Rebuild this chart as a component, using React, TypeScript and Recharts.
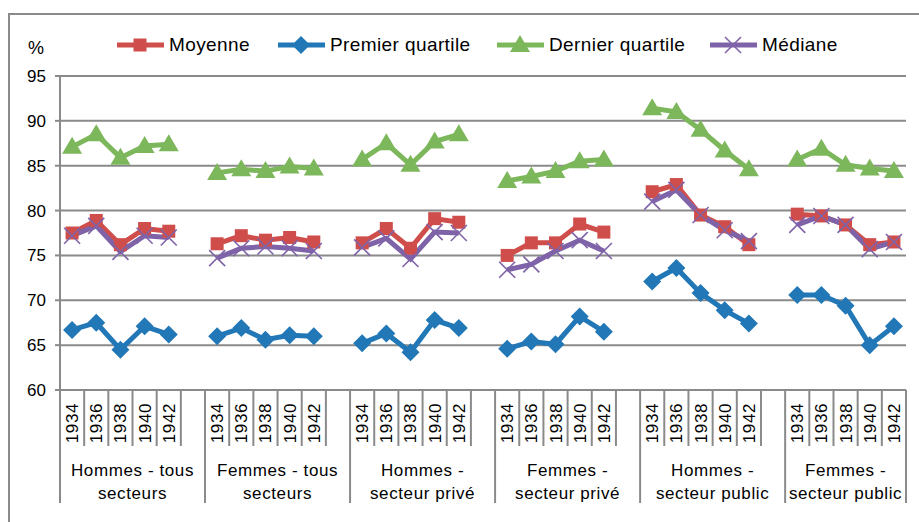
import React from 'react';
import { LineChart, Line, XAxis, YAxis, CartesianGrid } from 'recharts';

const years = ['1934', '1936', '1938', '1940', '1942'];
const groupLabels = [
  ['Hommes - tous', 'secteurs'],
  ['Femmes - tous', 'secteurs'],
  ['Hommes -', 'secteur privé'],
  ['Femmes -', 'secteur privé'],
  ['Hommes -', 'secteur public'],
  ['Femmes -', 'secteur public'],
];
const yTicks = [60, 65, 70, 75, 80, 85, 90, 95];

// valeurs par groupe, 5 années chacun
const moyenne = [
  77.5, 78.9, 76.2, 78.0, 77.7,
  76.3, 77.2, 76.7, 77.0, 76.5,
  76.4, 78.0, 75.8, 79.1, 78.7,
  75.0, 76.4, 76.4, 78.5, 77.6,
  82.1, 82.9, 79.5, 78.2, 76.2,
  79.6, 79.4, 78.4, 76.2, 76.5,
];
const premierQuartile = [
  66.7, 67.5, 64.5, 67.1, 66.2,
  66.0, 66.9, 65.6, 66.1, 66.0,
  65.2, 66.3, 64.2, 67.8, 66.9,
  64.6, 65.4, 65.1, 68.2, 66.5,
  72.1, 73.6, 70.8, 68.9, 67.4,
  70.6, 70.6, 69.4, 65.0, 67.1,
];
const dernierQuartile = [
  87.1, 88.5, 85.9, 87.2, 87.4,
  84.2, 84.6, 84.4, 84.9, 84.7,
  85.7, 87.5, 85.1, 87.7, 88.5,
  83.3, 83.8, 84.4, 85.5, 85.7,
  91.4, 91.0, 89.0, 86.7, 84.6,
  85.7, 86.9, 85.1, 84.7, 84.4,
];
const mediane = [
  77.2, 78.3, 75.4, 77.2, 77.0,
  74.7, 75.8, 76.0, 75.8, 75.5,
  75.9, 76.9, 74.6, 77.6, 77.5,
  73.4, 74.0, 75.5, 76.7, 75.5,
  81.0, 82.3, 79.5, 77.8, 76.6,
  78.4, 79.4, 78.4, 75.7, 76.5,
];

const RED = '#CF4E4B';
const BLUE = '#2277B6';
const GREEN = '#7DB75B';
const PURPLE = '#7F63A8';
const GRID = '#8a8a8a';
const FONT = '"Liberation Sans", Arial, sans-serif';

// une colonne vide entre deux groupes pour couper les lignes
const data: any[] = [];
groupLabels.forEach((_, g) => {
  years.forEach((y, k) => {
    const i = g * 5 + k;
    data.push({
      key: `${g}-${y}`,
      year: y,
      moyenne: moyenne[i],
      premier: premierQuartile[i],
      dernier: dernierQuartile[i],
      mediane: mediane[i],
    });
  });
  if (g < groupLabels.length - 1) {
    data.push({ key: `${g}-gap`, year: '', moyenne: null, premier: null, dernier: null, mediane: null });
  }
});

const N = data.length;
const PLOT_LEFT = 60;
const PLOT_RIGHT = 906;
const PLOT_BOTTOM = 390;
const SLOT = (PLOT_RIGHT - PLOT_LEFT) / N;

type Shape = 'square' | 'diamond' | 'triangle' | 'cross';

const Marker = ({ shape, color, cx, cy }: { shape: Shape; color: string; cx: number; cy: number }) => {
  if (shape === 'square') return <rect x={cx - 6.5} y={cy - 6.5} width={13} height={13} fill={color} />;
  if (shape === 'diamond')
    return <polygon points={`${cx},${cy - 9} ${cx + 9},${cy} ${cx},${cy + 9} ${cx - 9},${cy}`} fill={color} />;
  if (shape === 'triangle')
    return <polygon points={`${cx},${cy - 10} ${cx + 10},${cy + 7} ${cx - 10},${cy + 7}`} fill={color} />;
  return (
    <g stroke={color} strokeWidth={1.6}>
      <line x1={cx - 8} y1={cy - 8} x2={cx + 8} y2={cy + 8} />
      <line x1={cx - 8} y1={cy + 8} x2={cx + 8} y2={cy - 8} />
    </g>
  );
};

const makeDot = (shape: Shape, color: string) => (props: any) => {
  const { cx, cy, value, index } = props;
  if (value == null || cy == null || isNaN(cy)) return <g key={`d-${index}`} />;
  return (
    <g key={`d-${index}`}>
      <Marker shape={shape} color={color} cx={cx} cy={cy} />
    </g>
  );
};

const XTick = (props: any) => {
  const { x, payload } = props;
  const i = payload.index;
  const row = data[i];
  const g = Math.floor(i / 6);
  const isGroupEnd = i % 6 === 5 || i === N - 1;
  let label: React.ReactNode = null;
  const labelX = g < groupLabels.length - 1 && i % 6 === 2 ? x + SLOT / 2 : i === N - 3 ? x : null;
  if (labelX != null) {
    const [l1, l2] = groupLabels[g];
    label = (
      <text textAnchor="middle" fontSize={17} letterSpacing={0.6} fill="#000" fontFamily={FONT}>
        <tspan x={labelX} y={476}>{l1}</tspan>
        <tspan x={labelX} y={499}>{l2}</tspan>
      </text>
    );
  }
  return (
    <g>
      {row.year && (
        <text
          transform={`translate(${x + 6}, 403) rotate(-90)`}
          textAnchor="end"
          fontSize={17}
          letterSpacing={0.6}
          fill="#000"
          fontFamily={FONT}
        >
          {row.year}
        </text>
      )}
      {i === 0 && <line x1={x - SLOT / 2} x2={x - SLOT / 2} y1={PLOT_BOTTOM} y2={503} stroke={GRID} strokeWidth={2} />}
      <line
        x1={x + SLOT / 2}
        x2={x + SLOT / 2}
        y1={PLOT_BOTTOM}
        y2={isGroupEnd ? 503 : 446}
        stroke={GRID}
        strokeWidth={2}
      />
      {label}
    </g>
  );
};

const legendItems: { name: string; color: string; shape: Shape; left: number }[] = [
  { name: 'Moyenne', color: RED, shape: 'square', left: 116 },
  { name: 'Premier quartile', color: BLUE, shape: 'diamond', left: 277 },
  { name: 'Dernier quartile', color: GREEN, shape: 'triangle', left: 496 },
  { name: 'Médiane', color: PURPLE, shape: 'cross', left: 709 },
];

export default function App() {
  return (
    <div
      style={{
        position: 'absolute',
        left: 0,
        top: 0,
        width: 919,
        height: 522,
        overflow: 'hidden',
        background: '#fff',
        fontFamily: FONT,
      }}
    >
      <div
        style={{
          position: 'absolute',
          left: 8,
          top: 13,
          width: 1000,
          height: 600,
          borderLeft: `2px solid ${GRID}`,
          borderTop: `2px solid ${GRID}`,
        }}
      />
      <div style={{ position: 'absolute', left: 28, top: 38, fontSize: 18, color: '#000' }}>%</div>
      {legendItems.map((it) => (
        <div
          key={it.name}
          style={{
            position: 'absolute',
            left: it.left,
            top: 33,
            display: 'flex',
            alignItems: 'center',
            whiteSpace: 'nowrap',
            fontSize: 19,
            letterSpacing: 0.4,
            color: '#000',
          }}
        >
          <svg width={50} height={24}>
            <line x1={1} x2={48} y1={12} y2={12} stroke={it.color} strokeWidth={5} />
            <Marker shape={it.shape} color={it.color} cx={24} cy={12} />
          </svg>
          <span style={{ marginLeft: 3 }}>{it.name}</span>
        </div>
      ))}
      <div style={{ position: 'absolute', left: 0, top: 0 }}>
        <LineChart width={919} height={522} data={data} margin={{ top: 76, right: 13, bottom: 0, left: 0 }}>
          <CartesianGrid vertical={false} stroke={GRID} strokeWidth={2} />
          <XAxis
            dataKey="key"
            scale="band"
            interval={0}
            height={132}
            tickLine={false}
            axisLine={{ stroke: GRID, strokeWidth: 2 }}
            tick={(p: any) => <XTick {...p} />}
          />
          <YAxis
            width={60}
            domain={[60, 95]}
            ticks={yTicks}
            interval={0}
            tickSize={5}
            tickMargin={9}
            tickLine={{ stroke: GRID, strokeWidth: 2 }}
            axisLine={{ stroke: GRID, strokeWidth: 2 }}
            tick={{ fontSize: 17, fill: '#000', fontFamily: FONT }}
          />
          <Line dataKey="moyenne" name="Moyenne" stroke={RED} strokeWidth={5} dot={makeDot('square', RED)} isAnimationActive={false} />
          <Line dataKey="premier" name="Premier quartile" stroke={BLUE} strokeWidth={5} dot={makeDot('diamond', BLUE)} isAnimationActive={false} />
          <Line dataKey="dernier" name="Dernier quartile" stroke={GREEN} strokeWidth={5} dot={makeDot('triangle', GREEN)} isAnimationActive={false} />
          <Line dataKey="mediane" name="Médiane" stroke={PURPLE} strokeWidth={5} dot={makeDot('cross', PURPLE)} isAnimationActive={false} />
        </LineChart>
      </div>
    </div>
  );
}
